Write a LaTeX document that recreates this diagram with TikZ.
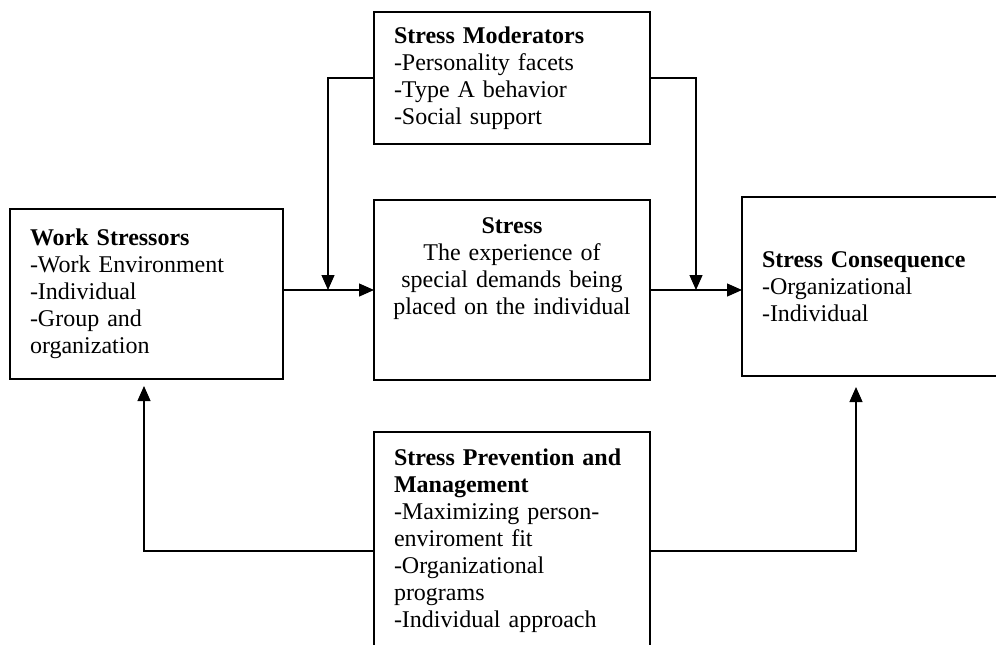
\documentclass[tikz,border=0pt]{standalone}
\usepackage{fontspec}
\setmainfont{Liberation Serif}
\usetikzlibrary{positioning,arrows.meta,calc}

\begin{document}
\begin{tikzpicture}[
  x=0.5pt, y=-0.5pt,
  box/.style={rectangle, draw, line width=0.6pt, outer sep=0pt, inner xsep=10pt, inner ysep=0pt, anchor=north west, align=left, font=\fontsize{12}{13.5}\selectfont},
  topbox/.style={box, text height=8pt},
  arr/.style={-{Triangle[length=7.5pt,width=6.5pt]}, line width=0.6pt}
]
\clip (0,0) rectangle (996,644);

\node[box, text width=118pt, minimum height=66pt] (mod) at (374,12)
  {\textbf{Stress Moderators}\\-Personality facets\\-Type A behavior\\-Social support};
\node[box, text width=116.5pt, minimum height=85pt] (work) at (10,209)
  {\textbf{Work Stressors}\\-Work Environment\\-Individual\\-Group and\\organization};
\node[topbox, align=center, inner xsep=4pt, text width=130pt, minimum height=90pt, text depth=65pt] (stress) at (374,200)
  {\textbf{Stress}\\The experience of\\special demands being\\placed on the individual};
\node[box, text width=114pt, minimum height=89.5pt] (cons) at (742,197)
  {\textbf{Stress Consequence}\\-Organizational\\-Individual};
\node[topbox, text width=118pt, minimum height=114pt, text depth=89pt] (prev) at (374,432)
  {\textbf{Stress Prevention and}\\\textbf{Management}\\-Maximizing person-\\enviroment fit\\-Organizational\\programs\\-Individual approach};

% junctions and bends
\coordinate (jl) at (328,290);
\coordinate (jr) at (696,290);
\coordinate (bl) at (144,551);
\coordinate (br) at (856,551);

\draw[arr] (work.east |- stress.west) -- (stress.west);
\draw[arr] (stress.east) -- (stress.east -| cons.west);
\draw[arr] (mod.west) -| (jl);
\draw[arr] (mod.east) -| (jr);
\draw[arr] (prev.west |- bl) -| ([yshift=-3.5pt]work.south -| bl);
\draw[arr] (prev.east |- br) -| ([yshift=-5.5pt]cons.south -| br);
\end{tikzpicture}
\end{document}
